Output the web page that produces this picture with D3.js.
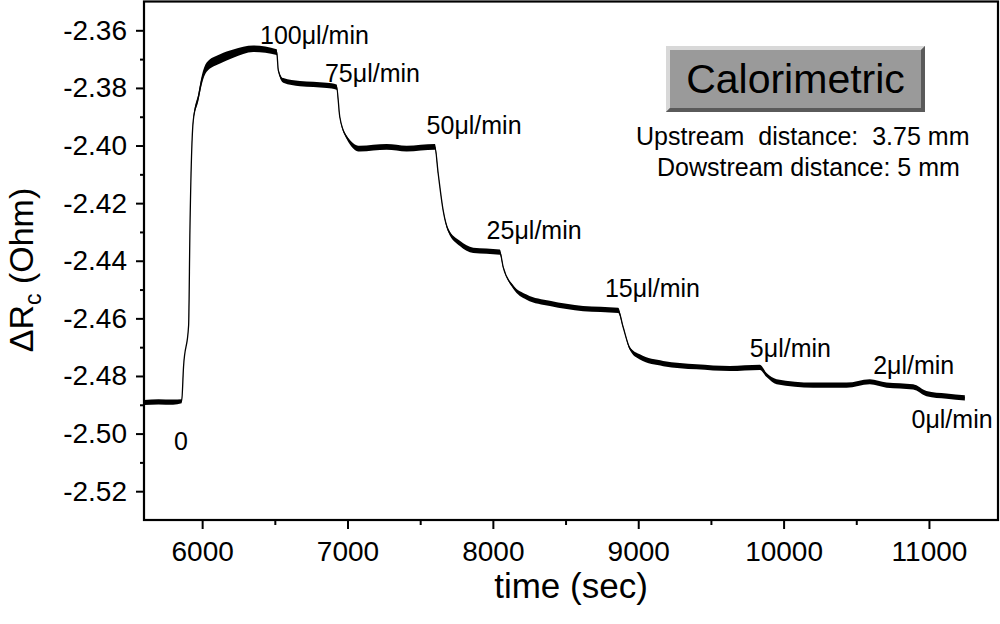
<!DOCTYPE html>
<html>
<head>
<meta charset="utf-8">
<script src="https://cdn.jsdelivr.net/npm/d3@7"></script>
<style>
    body { margin: 0; background: #fff; }
    text { font-family: "Liberation Sans", Arial, sans-serif; fill: #000; }
</style>
</head>
<body>
<div id="chart"></div>
<script>
// trace (time in sec, value in Ohm, noise half-width in Ohm)
var timeSec = [5600, 5700, 5800, 5859, 5872, 5907, 5916, 5939, 5974, 5997, 6031, 6123, 6214, 6352, 6513,
    6524, 6558, 6673, 6857, 6925, 6947, 6994, 7085, 7269, 7407, 7601, 7624, 7658, 7693, 7773, 7865, 8048,
    8071, 8140, 8232, 8392, 8621, 8862, 8896, 8943, 9011, 9172, 9401, 9630, 9837, 9883, 9952, 10203,
    10433, 10593, 10708, 10891, 10983, 11121, 11247];
var deltaRc = [-2.4892, -2.4890, -2.4891, -2.4888, -2.4768, -2.4624, -2.4294, -2.3913, -2.3832, -2.3774,
    -2.3728, -2.3699, -2.3681, -2.3664, -2.3676, -2.3739, -2.3774, -2.3785, -2.3791, -2.3797, -2.3901,
    -2.3971, -2.4011, -2.4005, -2.4011, -2.4005, -2.4098, -2.4225, -2.4294, -2.4340, -2.4364, -2.4370,
    -2.4422, -2.4491, -2.4526, -2.4548, -2.4566, -2.4572, -2.4630, -2.4705, -2.4734, -2.4757, -2.4768,
    -2.4774, -2.4770, -2.4797, -2.4820, -2.4832, -2.4832, -2.4820, -2.4832, -2.4838, -2.4861, -2.4870,
    -2.4876];
var noise = [0.0009, 0.0009, 0.0009, 0.0007, 0.0002, 0.0002, 0.0002, 0.0006, 0.0013, 0.0015, 0.0016,
    0.0016, 0.0014, 0.0011, 0.0010, 0.0004, 0.0008, 0.0009, 0.0009, 0.0009, 0.0003, 0.0006, 0.0010,
    0.0010, 0.0010, 0.0010, 0.0003, 0.0003, 0.0006, 0.0009, 0.0009, 0.0009, 0.0003, 0.0006, 0.0009,
    0.0009, 0.0009, 0.0009, 0.0003, 0.0006, 0.0009, 0.0009, 0.0009, 0.0009, 0.0009, 0.0007, 0.0009,
    0.0009, 0.0009, 0.0009, 0.0009, 0.0009, 0.0009, 0.0009, 0.0009];

// flow-rate annotations
var rateLabels = ["0", "100\u03bcl/min", "75\u03bcl/min", "50\u03bcl/min", "25\u03bcl/min", "15\u03bcl/min",
    "5\u03bcl/min", "2\u03bcl/min", "0\u03bcl/min"];
var rateLabelTime = [5806, 6398, 6845, 7544, 7957, 8771, 9768, 10616, 10880];
var rateLabelValue = [-2.5057, -2.3646, -2.3780, -2.3959, -2.4323, -2.4526, -2.4734, -2.4794, -2.4982];

var xTicks = [6000, 7000, 8000, 9000, 10000, 11000];
var xTickLabels = ["6000", "7000", "8000", "9000", "10000", "11000"];
var xMinor = [6500, 7500, 8500, 9500, 10500];
var yTicks = [-2.52, -2.50, -2.48, -2.46, -2.44, -2.42, -2.40, -2.38, -2.36];
var yTickLabels = ["-2.52", "-2.50", "-2.48", "-2.46", "-2.44", "-2.42", "-2.40", "-2.38", "-2.36"];
var yMinor = [-2.51, -2.49, -2.47, -2.45, -2.43, -2.41, -2.39, -2.37];

var width = 1000, height = 624;
var margin = { top: 1.5, right: 2, bottom: 104, left: 144 };

var svg = d3.select("#chart").append("svg")
    .attr("width", width)
    .attr("height", height);

var x = d3.scaleLinear().domain([5600, 11475]).range([margin.left, width - margin.right]);
var y = d3.scaleLinear().domain([-2.53, -2.35]).range([height - margin.bottom, margin.top]);

var data = timeSec.map(function (t, i) {
    return { t: t, v: deltaRc[i], n: noise[i] };
});

// noise band + trace
svg.append("path")
    .datum(data)
    .attr("fill", "#000")
    .attr("d", d3.area()
        .curve(d3.curveMonotoneX)
        .x(d => x(d.t))
        .y0(d => y(d.v - d.n))
        .y1(d => y(d.v + d.n)));

svg.append("path")
    .datum(data)
    .attr("fill", "none")
    .attr("stroke", "#000")
    .attr("stroke-width", 1.3)
    .attr("d", d3.line().curve(d3.curveMonotoneX).x(d => x(d.t)).y(d => y(d.v)));

// axes
svg.append("g")
    .attr("transform", "translate(0," + y.range()[0] + ")")
    .call(d3.axisBottom(x).tickValues(xTicks)
        .tickFormat((d, i) => xTickLabels[i]).tickSize(9).tickSizeOuter(0).tickPadding(12));
svg.append("g")
    .attr("transform", "translate(0," + y.range()[0] + ")")
    .call(d3.axisBottom(x).tickValues(xMinor).tickFormat("").tickSize(5).tickSizeOuter(0));

svg.append("g")
    .attr("transform", "translate(" + x.range()[0] + ",0)")
    .call(d3.axisLeft(y).tickValues(yTicks)
        .tickFormat((d, i) => yTickLabels[i]).tickSize(8).tickSizeOuter(0).tickPadding(9));
svg.append("g")
    .attr("transform", "translate(" + x.range()[0] + ",0)")
    .call(d3.axisLeft(y).tickValues(yMinor).tickFormat("").tickSize(4).tickSizeOuter(0));

svg.selectAll(".domain").remove();
svg.selectAll(".tick line").attr("stroke", "#000").attr("stroke-width", 2);
svg.selectAll(".tick text")
    .style("font-family", "'Liberation Sans', Arial, sans-serif")
    .style("font-size", "28px")
    .attr("fill", "#000");

// frame
svg.append("rect")
    .attr("x", x.range()[0])
    .attr("y", y.range()[1])
    .attr("width", x.range()[1] - x.range()[0])
    .attr("height", y.range()[0] - y.range()[1])
    .attr("fill", "none")
    .attr("stroke", "#000")
    .attr("stroke-width", 2.2);

// axis titles
svg.append("text")
    .attr("x", (x.range()[0] + x.range()[1]) / 2)
    .attr("y", 598)
    .attr("text-anchor", "middle")
    .style("font-size", "35px")
    .text("time (sec)");

var yTitle = svg.append("text")
    .attr("transform", "translate(33,270) rotate(-90)")
    .attr("text-anchor", "middle")
    .style("font-size", "34px");
yTitle.append("tspan").text("\u0394R");
yTitle.append("tspan").attr("dy", 8).style("font-size", "23px").text("c");
yTitle.append("tspan").attr("dy", -8).text(" (Ohm)");

// flow-rate labels
svg.append("g")
    .selectAll("text")
    .data(rateLabels)
    .enter()
    .append("text")
    .attr("x", (d, i) => x(rateLabelTime[i]))
    .attr("y", (d, i) => y(rateLabelValue[i]))
    .style("font-size", "25px")
    .text(d => d);

// "Calorimetric" button
var bx = 666, by = 46, bw = 259, bh = 66, bev = 4;
var btn = svg.append("g");
btn.append("rect").attr("x", bx).attr("y", by).attr("width", bw).attr("height", bh).attr("fill", "#9a9a9a");
btn.append("path")
    .attr("d", "M" + bx + "," + by + "h" + bw + "l-" + bev + "," + bev + "h-" + (bw - 2 * bev) +
        "v" + (bh - 2 * bev) + "l-" + bev + "," + bev + "z")
    .attr("fill", "#d8d8d8");
btn.append("path")
    .attr("d", "M" + (bx + bw) + "," + (by + bh) + "h-" + bw + "l" + bev + ",-" + bev + "h" + (bw - 2 * bev) +
        "v-" + (bh - 2 * bev) + "l" + bev + ",-" + bev + "z")
    .attr("fill", "#5a5a5a");
btn.append("text")
    .attr("x", bx + bw / 2)
    .attr("y", 93)
    .attr("text-anchor", "middle")
    .style("font-size", "41px")
    .text("Calorimetric");

svg.append("text")
    .attr("x", 636)
    .attr("y", 145)
    .attr("xml:space", "preserve")
    .style("white-space", "pre")
    .style("font-size", "25px")
    .text("Upstream  distance:  3.75 mm");
svg.append("text")
    .attr("x", 657)
    .attr("y", 176)
    .style("font-size", "25px")
    .text("Dowstream distance: 5 mm");
</script>
</body>
</html>
